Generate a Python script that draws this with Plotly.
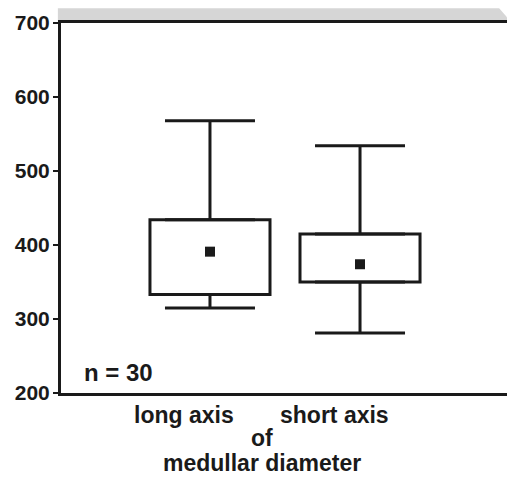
import plotly.graph_objects as go

categories = ["long axis", "short axis"]
upper_whisker = [568, 534]
q3 = [434, 415]
mean = [391, 374]
q1 = [333, 350]
lower_whisker = [315, 281]
n_text = "n = 30"
y_ticks = [200, 300, 400, 500, 600, 700]

FONT = "Liberation Sans, Arial, Helvetica, sans-serif"
INK = "#1a1a1a"
xpos = list(range(len(categories)))

fig = go.Figure()

# box bodies
fig.add_trace(go.Bar(
    x=xpos, base=q1, y=[b - a for a, b in zip(q1, q3)], width=0.8,
    marker=dict(color="white", line=dict(color=INK, width=3)),
    showlegend=False, hoverinfo="skip"))

# upper whiskers
fig.add_trace(go.Scatter(
    x=xpos, y=q3, mode="markers",
    marker=dict(size=1, color="rgba(0,0,0,0)"),
    error_y=dict(type="data", symmetric=False,
                 array=[u - v for u, v in zip(upper_whisker, q3)],
                 arrayminus=[0] * len(q3), color=INK, thickness=3, width=45),
    showlegend=False, hoverinfo="skip"))

# lower whiskers
fig.add_trace(go.Scatter(
    x=xpos, y=q1, mode="markers",
    marker=dict(size=1, color="rgba(0,0,0,0)"),
    error_y=dict(type="data", symmetric=False,
                 array=[0] * len(q1),
                 arrayminus=[v - l for v, l in zip(q1, lower_whisker)],
                 color=INK, thickness=3, width=45),
    showlegend=False, hoverinfo="skip"))

# means
fig.add_trace(go.Scatter(
    x=xpos, y=mean, mode="markers",
    marker=dict(symbol="square", size=10, color=INK),
    showlegend=False))

# category labels (shifted left as in the original)
for i, c in enumerate(categories):
    fig.add_annotation(x=i - 0.17, y=-0.06, xref="x", yref="paper",
                       text="<b>%s</b>" % c, showarrow=False,
                       font=dict(family=FONT, size=23, color=INK),
                       xanchor="center", yanchor="middle")

fig.add_annotation(x=0.345, y=-0.122, xref="x", yref="paper", text="<b>of</b>",
                   showarrow=False, font=dict(family=FONT, size=23, color=INK),
                   xanchor="center", yanchor="middle")
fig.add_annotation(x=0.345, y=-0.19, xref="x", yref="paper", text="<b>medullar diameter</b>",
                   showarrow=False, font=dict(family=FONT, size=23, color=INK),
                   xanchor="center", yanchor="middle")

fig.add_annotation(x=-0.85, y=228, xref="x", yref="y", text="<b>%s</b>" % n_text,
                   showarrow=False, font=dict(family=FONT, size=24, color=INK),
                   xanchor="left", yanchor="middle")

# shaded band above the frame
fig.add_shape(type="path", xref="paper", yref="paper",
              path="M -0.007,1.04 L 0.978,1.04 L 1.004,1.004 L -0.007,1.004 Z",
              fillcolor="#d6d6d6", line=dict(width=0), layer="below")

fig.update_xaxes(range=[-0.993, 1.993], showticklabels=False, showgrid=False,
                 zeroline=False, showline=True, linecolor=INK, linewidth=3,
                 mirror=True, ticks="")
fig.update_yaxes(range=[200, 700], tickvals=y_ticks, showgrid=False, zeroline=False,
                 showline=True, linecolor=INK, linewidth=3, mirror=True,
                 ticks="outside", ticklen=5, tickwidth=2, tickcolor=INK,
                 ticklabelstandoff=-1,
                 tickfont=dict(family=FONT, size=21, color=INK, weight="bold"))

fig.update_layout(width=507, height=470, margin=dict(l=53, r=3, t=14, b=85),
                  plot_bgcolor="white", paper_bgcolor="white", showlegend=False)

fig.write_html("out.html")
